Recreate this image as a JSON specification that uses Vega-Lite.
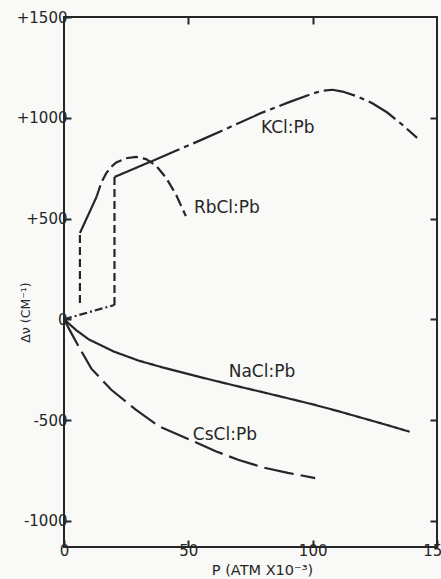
{
  "$schema": "https://vega.github.io/schema/vega-lite/v6.json",
  "width": 373,
  "height": 530,
  "autosize": {"type": "none"},
  "padding": {"left": 64, "top": 17, "right": 4, "bottom": 32},
  "background": "#f9f9f7",
  "config": {"view": {"stroke": "#262626", "strokeWidth": 2}, "font": "DejaVu Sans"},
  "datasets": {
    "curves": [
      {"seg": "KCl-a", "i": 0, "P": 0, "V": 0},
      {"seg": "KCl-a", "i": 1, "P": 20.3, "V": 71},
      {"seg": "KCl-b", "i": 0, "P": 20.3, "V": 71},
      {"seg": "KCl-b", "i": 1, "P": 20.3, "V": 706},
      {"seg": "KCl-c", "i": 0, "P": 20.3, "V": 706},
      {"seg": "KCl-c", "i": 1, "P": 34.6, "V": 781},
      {"seg": "KCl-d", "i": 0, "P": 34.6, "V": 781},
      {"seg": "KCl-d", "i": 1, "P": 45, "V": 836},
      {"seg": "KCl-d", "i": 2, "P": 55, "V": 889},
      {"seg": "KCl-d", "i": 3, "P": 65, "V": 944},
      {"seg": "KCl-d", "i": 4, "P": 79, "V": 1022},
      {"seg": "KCl-d", "i": 5, "P": 90, "V": 1075},
      {"seg": "KCl-d", "i": 6, "P": 100, "V": 1120},
      {"seg": "KCl-d", "i": 7, "P": 104, "V": 1134},
      {"seg": "KCl-d", "i": 8, "P": 108, "V": 1139},
      {"seg": "KCl-d", "i": 9, "P": 112, "V": 1130},
      {"seg": "KCl-d", "i": 10, "P": 118, "V": 1106},
      {"seg": "KCl-d", "i": 11, "P": 124, "V": 1072},
      {"seg": "KCl-d", "i": 12, "P": 130, "V": 1026},
      {"seg": "KCl-d", "i": 13, "P": 136, "V": 966},
      {"seg": "KCl-d", "i": 14, "P": 142, "V": 900},
      {"seg": "RbCl-a", "i": 0, "P": 6.4, "V": 81},
      {"seg": "RbCl-a", "i": 1, "P": 6.4, "V": 428},
      {"seg": "RbCl-b", "i": 0, "P": 6.4, "V": 428},
      {"seg": "RbCl-b", "i": 1, "P": 13.1, "V": 608},
      {"seg": "RbCl-c", "i": 0, "P": 13.1, "V": 608},
      {"seg": "RbCl-c", "i": 1, "P": 15, "V": 678},
      {"seg": "RbCl-c", "i": 2, "P": 17, "V": 725},
      {"seg": "RbCl-c", "i": 3, "P": 19, "V": 757},
      {"seg": "RbCl-c", "i": 4, "P": 21, "V": 778},
      {"seg": "RbCl-c", "i": 5, "P": 25, "V": 799},
      {"seg": "RbCl-c", "i": 6, "P": 29, "V": 806},
      {"seg": "RbCl-c", "i": 7, "P": 33, "V": 795},
      {"seg": "RbCl-c", "i": 8, "P": 37, "V": 763},
      {"seg": "RbCl-c", "i": 9, "P": 41, "V": 703},
      {"seg": "RbCl-c", "i": 10, "P": 45, "V": 620},
      {"seg": "RbCl-c", "i": 11, "P": 49, "V": 512},
      {"seg": "NaCl", "i": 0, "P": 0, "V": 0},
      {"seg": "NaCl", "i": 1, "P": 5, "V": -55},
      {"seg": "NaCl", "i": 2, "P": 10, "V": -100},
      {"seg": "NaCl", "i": 3, "P": 20, "V": -160},
      {"seg": "NaCl", "i": 4, "P": 30, "V": -205},
      {"seg": "NaCl", "i": 5, "P": 40, "V": -240},
      {"seg": "NaCl", "i": 6, "P": 50, "V": -272},
      {"seg": "NaCl", "i": 7, "P": 60, "V": -303},
      {"seg": "NaCl", "i": 8, "P": 70, "V": -333},
      {"seg": "NaCl", "i": 9, "P": 80, "V": -362},
      {"seg": "NaCl", "i": 10, "P": 90, "V": -392},
      {"seg": "NaCl", "i": 11, "P": 100, "V": -422},
      {"seg": "NaCl", "i": 12, "P": 110, "V": -455},
      {"seg": "NaCl", "i": 13, "P": 120, "V": -490},
      {"seg": "NaCl", "i": 14, "P": 130, "V": -525},
      {"seg": "NaCl", "i": 15, "P": 139, "V": -558},
      {"seg": "CsCl", "i": 0, "P": 0, "V": 0},
      {"seg": "CsCl", "i": 1, "P": 3, "V": -70},
      {"seg": "CsCl", "i": 2, "P": 6, "V": -137},
      {"seg": "CsCl", "i": 3, "P": 11, "V": -245},
      {"seg": "CsCl", "i": 4, "P": 19, "V": -350},
      {"seg": "CsCl", "i": 5, "P": 29, "V": -450},
      {"seg": "CsCl", "i": 6, "P": 38, "V": -530},
      {"seg": "CsCl", "i": 7, "P": 51, "V": -600},
      {"seg": "CsCl", "i": 8, "P": 61, "V": -655},
      {"seg": "CsCl", "i": 9, "P": 70, "V": -697},
      {"seg": "CsCl", "i": 10, "P": 80, "V": -735},
      {"seg": "CsCl", "i": 11, "P": 90, "V": -762},
      {"seg": "CsCl", "i": 12, "P": 101, "V": -788}
    ],
    "labels": [
      {"label": "KCl:Pb", "P": 90, "V": 949},
      {"label": "RbCl:Pb", "P": 65.5, "V": 552},
      {"label": "NaCl:Pb", "P": 79.6, "V": -262},
      {"label": "CsCl:Pb", "P": 64.7, "V": -574}
    ]
  },
  "layer": [
    {
      "mark": {"type": "rule", "stroke": "#262626", "strokeWidth": 1.8},
      "encoding": {"y": {"datum": 0, "type": "quantitative", "axis": null}}
    },
    {
      "data": {"name": "curves"},
      "mark": {"type": "line", "stroke": "#262626", "strokeWidth": 2.2, "strokeCap": "butt"},
      "encoding": {
        "x": {
          "field": "P", "type": "quantitative",
          "scale": {"domain": [0, 150], "nice": false, "zero": false},
          "axis": {
            "orient": "bottom", "values": [0, 50, 100, 150], "format": "d",
            "tickSize": -7, "tickWidth": 2, "tickColor": "#262626",
            "domain": false, "grid": false, "labelFlush": false,
            "labelFontSize": 15, "labelColor": "#262626", "labelPadding": 3,
            "title": "P (ATM X10⁻³)", "titleFontSize": 14.5, "titleFontWeight": "normal",
            "titleColor": "#262626", "titleX": 198, "titleY": 23, "titleBaseline": "middle"
          }
        },
        "y": {
          "field": "V", "type": "quantitative",
          "scale": {"domain": [-1130, 1500], "nice": false, "zero": false},
          "axis": {
            "orient": "left", "values": [-1000, -500, 0, 500, 1000, 1500],
            "labelExpr": "datum.value > 0 ? '+' + datum.value : '' + datum.value",
            "tickSize": -7, "tickWidth": 2, "tickColor": "#262626",
            "domain": false, "grid": false, "labelFlush": false,
            "labelFontSize": 15, "labelColor": "#262626", "labelPadding": 4,
            "title": "Δν (CM⁻¹)", "titleFontSize": 12.5, "titleFontWeight": "normal",
            "titleColor": "#262626", "titleAngle": 270, "titleX": -39, "titleY": 295,
            "titleBaseline": "middle", "titleAlign": "center"
          }
        },
        "detail": {"field": "seg", "type": "nominal"},
        "order": {"field": "i", "type": "quantitative"},
        "strokeDash": {
          "field": "seg", "type": "nominal", "legend": null,
          "scale": {
            "domain": ["KCl-a", "KCl-b", "KCl-c", "KCl-d", "RbCl-a", "RbCl-b", "RbCl-c", "NaCl", "CsCl"],
            "range": [[8, 3, 2, 3], [8, 4], [1, 0], [32, 5, 5, 5], [8, 4], [1, 0], [12, 5], [1, 0], [30, 7]]
          }
        }
      }
    },
    {
      "data": {"name": "labels"},
      "mark": {"type": "text", "fontSize": 17, "font": "DejaVu Sans", "fill": "#262626", "align": "center", "baseline": "middle"},
      "encoding": {
        "x": {
          "field": "P", "type": "quantitative",
          "axis": {"orient": "top", "values": [50, 100], "labels": false, "tickSize": -7, "tickWidth": 2, "tickColor": "#262626", "domain": false, "grid": false, "title": null}
        },
        "y": {
          "field": "V", "type": "quantitative",
          "axis": {"orient": "right", "values": [-1000, -500, 0, 500, 1000], "labels": false, "tickSize": -7, "tickWidth": 2, "tickColor": "#262626", "domain": false, "grid": false, "title": null}
        },
        "text": {"field": "label", "type": "nominal"}
      }
    }
  ],
  "resolve": {"axis": {"x": "independent", "y": "independent"}}
}
